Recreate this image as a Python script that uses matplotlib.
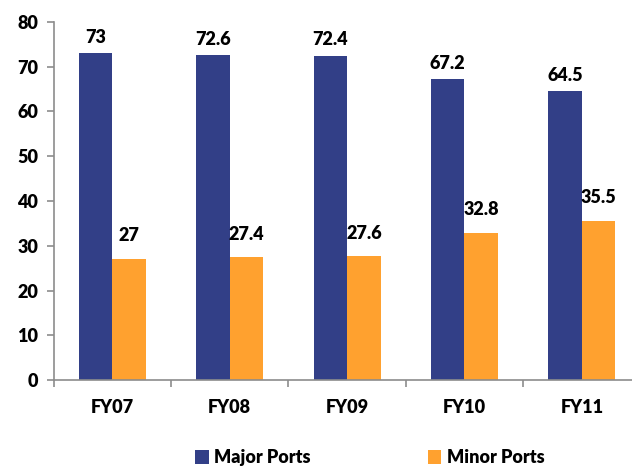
import numpy as np
import matplotlib
matplotlib.use("Agg")
import matplotlib.pyplot as plt
from matplotlib.ticker import FixedLocator

# ------------------- DATEN -------------------
jahre = ["FY07", "FY08", "FY09", "FY10", "FY11"]
major_ports = [73, 72.6, 72.4, 67.2, 64.5]
minor_ports = [27, 27.4, 27.6, 32.8, 35.5]
major_labels = ["73", "72.6", "72.4", "67.2", "64.5"]
minor_labels = ["27", "27.4", "27.6", "32.8", "35.5"]

blau = "#323F87"
orange = "#FFA12F"
achse = "#8C8C8C"
gewicht = "heavy"

plt.rcParams['font.family'] = ['Lato', 'DejaVu Sans']
plt.rcParams['font.weight'] = gewicht

# ------------------- PLOTTEN -------------------
fig = plt.figure(figsize=(6.32, 4.68), dpi=100)
ax = fig.add_axes([53.6 / 632, (468 - 380) / 468, 5 * 117.4 / 632, 358 / 468])

x = np.arange(len(jahre))
breite = 0.285
ax.bar(x - breite / 2, major_ports, breite, color=blau, label="Major Ports")
ax.bar(x + breite / 2, minor_ports, breite, color=orange, label="Minor Ports")

for xi, v, t in zip(x, major_ports, major_labels):
    ax.text(xi - breite / 2, v + 3.6, t, ha="center", va="center", fontsize=13, fontweight=gewicht)
for xi, v, t in zip(x, minor_ports, minor_labels):
    ax.text(xi + breite / 2, v + 5.2, t, ha="center", va="center", fontsize=13, fontweight=gewicht)

ax.set_xlim(-0.5, len(jahre) - 0.5)
ax.set_ylim(0, 80)
ax.set_yticks(range(0, 81, 10))
ax.set_xticks(x)
ax.set_xticklabels(jahre)
ax.xaxis.set_minor_locator(FixedLocator(np.arange(-0.5, len(jahre), 1.0)))
ax.tick_params(axis="x", which="major", length=0, pad=14, labelsize=13)
ax.tick_params(axis="x", which="minor", length=5, width=1.2, color=achse, direction="out")
ax.tick_params(axis="y", length=5, width=1.2, color=achse, labelsize=13, pad=6)

for s in ["top", "right"]:
    ax.spines[s].set_visible(False)
for s in ["left", "bottom"]:
    ax.spines[s].set_color(achse)
    ax.spines[s].set_linewidth(1.2)

fig.legend(loc="center", bbox_to_anchor=(0.585, 0.022), ncol=2, frameon=False,
           fontsize=13, handlelength=0.75, handleheight=0.75, handletextpad=0.3,
           columnspacing=6.5)

fig.savefig("out.png", dpi=100)
